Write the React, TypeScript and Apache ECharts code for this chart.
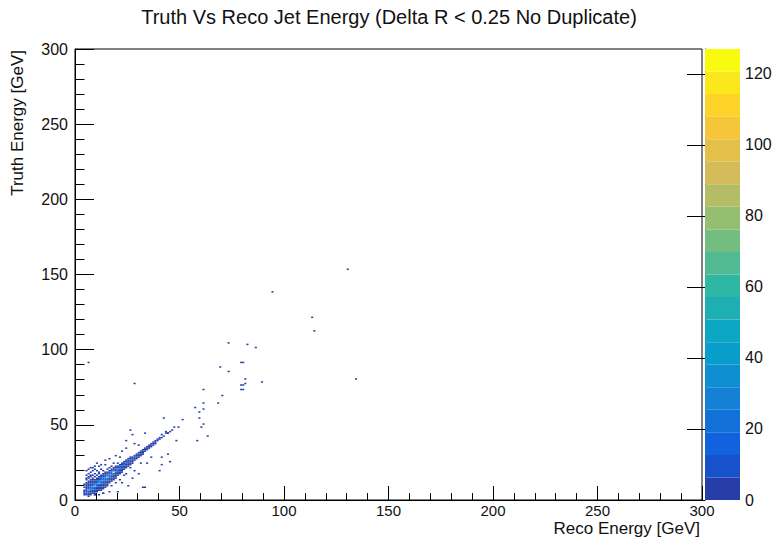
import { useEffect, useRef } from "react";
import * as echarts from "echarts";

const titleText = "Truth Vs Reco Jet Energy (Delta R < 0.25 No Duplicate)";
const xTitle = "Reco Energy [GeV]";
const yTitle = "Truth Energy [GeV]";
const axisMin = 0;
const axisMax = 300;
const axisStep = 50;
const binWidth = 1;
const zMax = 127;
const colorTicks = [0, 20, 40, 60, 80, 100, 120];

// ROOT kBird palette sampled at 20 contour levels
const palette = [
  "#273da7", "#1751cb", "#1063dc", "#1271d9", "#1480d6",
  "#0e8fd1", "#099dcc", "#0da7c3", "#1eafb4", "#2eb7a4",
  "#52ba92", "#74bd81", "#96be71", "#b4bd65", "#d2bb58",
  "#e3c04a", "#f5c53a", "#fdd32a", "#fbe81c", "#f9fb0e",
];

// dense core: [reco, truth, count]
const coreBins: number[][] = [
  [4,3,2],[4,4,4],[4,5,2],[4,6,1],[4,8,1],[4,10,1],
  [5,3,4],[5,4,8],[5,5,18],[5,6,9],[5,7,5],[5,8,3],[5,9,2],[5,10,1],[5,11,2],[5,13,1],[5,14,1],[5,16,1],[5,19,1],
  [6,2,1],[6,3,3],[6,4,6],[6,5,11],[6,6,62],[6,7,14],[6,8,6],[6,9,3],[6,10,2],[6,11,1],[6,12,2],[6,14,1],[6,15,1],[6,17,1],[6,20,1],
  [7,3,2],[7,4,3],[7,5,6],[7,6,12],[7,7,24],[7,8,18],[7,9,7],[7,10,4],[7,11,2],[7,12,1],[7,13,2],[7,15,1],[7,16,1],[7,18,1],
  [8,4,2],[8,5,4],[8,6,7],[8,7,15],[8,8,26],[8,9,16],[8,10,7],[8,11,4],[8,12,2],[8,13,1],[8,14,2],[8,16,1],[8,19,1],[8,21,1],
  [9,3,1],[9,4,1],[9,5,2],[9,6,4],[9,7,8],[9,8,15],[9,9,70],[9,10,18],[9,11,8],[9,12,4],[9,13,2],[9,15,2],[9,17,1],[9,20,1],
  [10,5,2],[10,6,3],[10,7,5],[10,8,9],[10,9,17],[10,10,28],[10,11,18],[10,12,8],[10,13,4],[10,14,2],[10,16,1],[10,19,1],
  [11,6,1],[11,7,3],[11,8,6],[11,9,10],[11,10,17],[11,11,62],[11,12,19],[11,13,8],[11,14,4],[11,15,2],[11,17,1],[11,18,1],[11,22,1],
  [12,6,1],[12,7,2],[12,8,3],[12,9,6],[12,10,11],[12,11,17],[12,12,30],[12,13,16],[12,14,7],[12,15,3],[12,16,2],[12,20,1],
  [13,4,1],[13,7,1],[13,8,2],[13,9,3],[13,10,6],[13,11,10],[13,12,16],[13,13,27],[13,14,17],[13,15,7],[13,16,3],[13,17,2],[13,19,1],
  [14,8,1],[14,9,2],[14,10,3],[14,11,5],[14,12,9],[14,13,15],[14,14,26],[14,15,16],[14,16,6],[14,17,3],[14,18,1],[14,23,1],
  [15,9,1],[15,10,2],[15,11,3],[15,12,5],[15,13,9],[15,14,15],[15,15,78],[15,16,14],[15,17,5],[15,18,2],[15,20,1],
  [16,11,1],[16,12,3],[16,13,5],[16,14,8],[16,15,14],[16,16,25],[16,17,13],[16,18,5],[16,19,2],[16,21,1],
  [17,12,1],[17,13,2],[17,14,4],[17,15,8],[17,16,13],[17,17,24],[17,18,13],[17,19,5],[17,20,2],[17,22,1],
  [18,13,1],[18,14,2],[18,15,3],[18,16,6],[18,17,12],[18,18,127],[18,19,13],[18,20,5],[18,21,2],[18,24,1],
  [19,14,1],[19,15,2],[19,16,3],[19,17,6],[19,18,11],[19,19,22],[19,20,10],[19,21,3],[19,22,2],
  [20,16,1],[20,17,2],[20,18,5],[20,19,9],[20,20,20],[20,21,9],[20,22,3],[20,24,1],
  [21,17,1],[21,18,2],[21,19,4],[21,20,8],[21,21,18],[21,22,8],[21,23,2],
  [22,18,1],[22,19,2],[22,20,3],[22,21,7],[22,22,16],[22,23,6],[22,24,2],
  [23,20,1],[23,21,3],[23,22,6],[23,23,15],[23,24,5],[23,25,2],
  [24,21,1],[24,22,3],[24,23,5],[24,24,13],[24,25,5],[24,26,1],
  [25,22,1],[25,23,2],[25,24,4],[25,25,11],[25,26,4],[25,27,1],
  [26,23,1],[26,24,3],[26,25,4],[26,26,9],[26,27,3],[26,28,1],
  [27,24,1],[27,25,2],[27,26,3],[27,27,8],[27,28,3],
  [28,26,2],[28,27,3],[28,28,7],[28,29,2],
  [29,27,1],[29,28,3],[29,29,6],[29,30,2],
  [30,28,1],[30,29,2],[30,30,5],[30,31,2],
  [31,29,1],[31,30,2],[31,31,5],[31,32,1],
  [32,30,1],[32,31,2],[32,32,4],[32,33,1],
  [33,32,1],[33,33,3],[33,34,1],
  [34,33,1],[34,34,3],[34,35,1],
  [35,34,1],[35,35,2],[35,36,1],
  [36,35,1],[36,36,2],[36,37,1],
  [37,36,1],[37,37,2],[37,38,1],
  [38,37,1],[38,38,1],
  [39,39,1],[39,40,1],
  [40,40,1],[40,41,1],
  [42,42,1],[43,44,1],[44,44,1],
];

// isolated single-entry bins: [reco, truth]
const sparseBins: number[][] = [
  [130,153],[94,138],[113,121],[114,112],[73,104],[82,103],[86,101],
  [79,91],[80,91],[69,88],[73,85],[134,80],[81,80],[89,78],[81,77],
  [79,76],[80,76],[79,73],[80,73],[61,73],[70,69],[61,64],[68,64],
  [57,61],[61,60],[59,58],[59,54],[61,50],[60,48],[51,53],[42,54],
  [47,48],[49,48],[46,46],[44,44],[43,45],[45,45],[41,43],[48,39],
  [38,39],[41,41],[58,39],[63,42],[26,46],[27,43],[33,44],[24,39],
  [28,37],[30,36],[35,35],[32,31],[36,28],[41,28],[41,23],[44,30],
  [45,25],[40,19],[31,24],[34,24],[26,21],[28,19],[30,17],[27,14],
  [22,11],[25,9],[32,8],[33,8],[16,5],[20,5],[9,3],[13,4],[28,77],
  [6,91],[7,21],[9,22],[12,23],[16,27],[19,29],[21,28],[22,32],[24,34],
  [10,24],[14,26],[17,9],[21,13],[23,16],[19,11],[24,17],[11,3],
];

const font = "'Liberation Sans', Arial, Helvetica, sans-serif";

export default function App() {
  const ref = useRef<HTMLDivElement>(null);
  useEffect(() => {
    if (!ref.current) return;
    const chart = echarts.init(ref.current, null, { renderer: "svg" });
    const nLevels = palette.length;
    const histData = [
      ...coreBins,
      ...sparseBins.map((p) => [p[0], p[1], 1]),
    ];
    const barData = palette.map((_, i) => [0, (i * zMax) / nLevels, ((i + 1) * zMax) / nLevels, i]);
    const gridL = 75, gridT = 49, gridW = 627, gridH = 451;
    chart.setOption({
      animation: false,
      backgroundColor: "#fff",
      textStyle: { fontFamily: font },
      grid: [
        { left: gridL, top: gridT, width: gridW, height: gridH, show: true, borderColor: "#000", borderWidth: 1, backgroundColor: "transparent" },
        { left: 705, top: gridT, width: 35, height: gridH, show: false },
      ],
      xAxis: [
        {
          type: "value", gridIndex: 0, min: axisMin, max: axisMax, interval: axisStep,
          axisLine: { show: true, onZero: false, lineStyle: { color: "#000", width: 1 } },
          axisTick: { show: true, inside: true, length: 14, lineStyle: { color: "#000" } },
          minorTick: { show: true, splitNumber: 5, length: 7, lineStyle: { color: "#000" } },
          axisLabel: { fontSize: 15, color: "#111", margin: 3, fontFamily: font },
          splitLine: { show: false },
        },
        { type: "value", gridIndex: 1, min: 0, max: 1, show: false },
      ],
      yAxis: [
        {
          type: "value", gridIndex: 0, min: axisMin, max: axisMax, interval: axisStep,
          axisLine: { show: true, onZero: false, lineStyle: { color: "#000", width: 1 } },
          axisTick: { show: true, inside: true, length: 19, lineStyle: { color: "#000" } },
          minorTick: { show: true, splitNumber: 5, length: 9.5, lineStyle: { color: "#000" } },
          axisLabel: { fontSize: 16, color: "#111", margin: 7, fontFamily: font },
          splitLine: { show: false },
        },
        {
          type: "value", gridIndex: 1, min: 0, max: zMax, position: "right",
          axisLine: { show: true, lineStyle: { color: "#000", width: 1 } },
          axisTick: { show: true, inside: true, length: 18, customValues: colorTicks, lineStyle: { color: "#000" } },
          axisLabel: { fontSize: 16, color: "#111", margin: 5, customValues: colorTicks, fontFamily: font },
          splitLine: { show: false },
        },
      ],
      series: [
        {
          type: "custom",
          xAxisIndex: 0,
          yAxisIndex: 0,
          clip: true,
          data: histData,
          renderItem: (_p: any, api: any) => {
            const x = api.value(0), y = api.value(1), c = api.value(2);
            const p0 = api.coord([x, y + binWidth]);
            const p1 = api.coord([x + binWidth, y]);
            const lvl = Math.min(nLevels - 1, Math.floor((c * nLevels) / zMax));
            return {
              type: "rect",
              shape: { x: p0[0], y: p0[1], width: p1[0] - p0[0], height: p1[1] - p0[1] },
              style: { fill: palette[lvl] },
            };
          },
        },
        {
          type: "custom",
          xAxisIndex: 1,
          yAxisIndex: 1,
          data: barData,
          renderItem: (_p: any, api: any) => {
            const lo = api.value(1), hi = api.value(2), i = api.value(3);
            const p0 = api.coord([0, hi]);
            const p1 = api.coord([1, lo]);
            return {
              type: "rect",
              shape: { x: p0[0], y: p0[1], width: p1[0] - p0[0], height: p1[1] - p0[1] },
              style: { fill: palette[i] },
            };
          },
        },
      ],
      graphic: [
        { type: "text", left: "center", top: 7, style: { text: titleText, fontSize: 20, fontFamily: font, fill: "#111" } },
        { type: "text", x: 700, y: 528, style: { text: xTitle, fontSize: 17, fontFamily: font, fill: "#111", align: "right", verticalAlign: "middle" } },
        { type: "text", x: 17, y: 50, rotation: Math.PI / 2, style: { text: yTitle, fontSize: 17, fontFamily: font, fill: "#111", align: "right", verticalAlign: "middle" } },
      ],
    });
    return () => chart.dispose();
  }, []);
  return <div ref={ref} style={{ position: "fixed", left: 0, top: 0, width: 778, height: 540 }} />;
}
